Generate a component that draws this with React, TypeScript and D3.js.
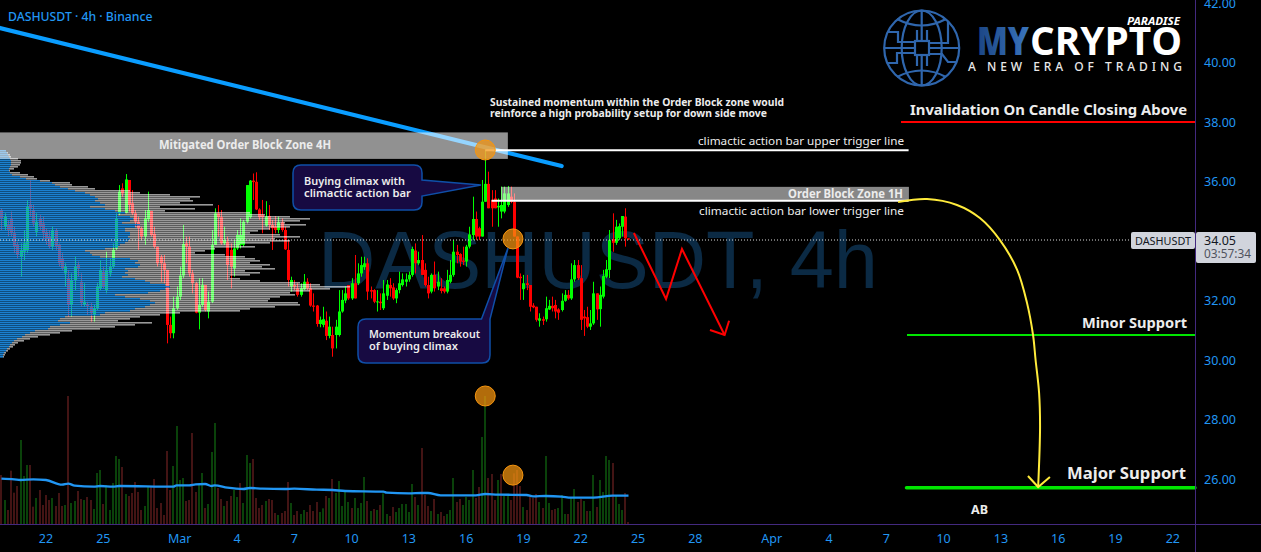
import React from "react";
import * as d3 from "d3";

const W = 1261, H = 552;
const FIRST_BAR = -14;
const opens = [35.04,34.48,34.54,34.76,34.26,33.87,33.47,33.64,33.70,35.21,35.04,34.31,34.76,34.59,
34.31,34.15,33.81,34.37,33.87,33.42,32.91,32.75,31.85,32.69,
33.19,32.63,31.85,31.88,31.79,31.51,31.74,32.41,32.97,32.35,
32.91,33.14,33.75,34.93,35.77,34.95,36.05,35.27,34.93,34.65,
34.43,34.15,34.73,35.01,34.24,33.81,33.47,33.25,33.03,31.18,
30.90,31.74,32.13,32.84,33.92,33.81,32.91,32.58,31.59,31.85,
32.52,31.63,31.96,33.87,34.93,34.80,33.92,33.98,33.70,33.08,
33.75,33.87,33.87,34.65,34.80,36.03,35.99,35.06,34.87,34.52,
34.84,34.54,34.48,34.37,34.63,34.37,33.70,32.47,32.52,32.41,
32.19,32.38,32.63,32.41,31.83,31.83,31.21,31.18,31.32,30.81,
30.84,30.84,30.84,31.63,32.00,32.52,32.07,32.58,32.58,32.91,
33.12,33.25,32.35,32.35,31.94,31.96,31.74,32.16,32.52,32.44,
32.07,32.35,32.52,32.63,32.71,32.86,33.68,33.25,33.36,33.03,
32.52,32.30,32.86,32.47,32.41,32.41,32.30,32.63,32.86,33.64,
33.56,33.34,33.31,33.81,34.20,34.74,34.43,34.15,35.32,35.92,
35.38,35.43,35.13,34.99,34.99,35.21,35.49,35.32,34.15,32.80,
32.38,32.58,32.52,31.83,31.79,31.32,31.37,31.37,31.70,31.82,
31.85,31.70,31.68,31.99,32.19,32.07,32.71,33.19,32.75,31.46,
31.44,31.12,31.23,32.24,31.71,32.13,32.80,33.03,34.06,33.94,
34.09,34.48,34.82,34.09];
const highs = [35.10,34.93,34.71,34.99,34.48,33.98,33.92,34.37,35.38,36.05,35.21,34.93,34.87,34.82,
34.43,34.37,34.48,34.43,33.92,33.59,33.25,33.03,32.91,33.47,
33.31,32.91,32.58,31.96,31.91,31.85,32.58,33.36,33.14,33.64,
33.42,33.92,34.93,35.88,35.94,36.25,36.05,35.71,35.04,34.82,
34.48,35.04,35.66,35.01,34.48,33.81,33.53,33.53,33.03,31.46,
32.13,32.47,33.14,34.54,34.15,34.15,33.03,32.63,32.75,32.75,
32.52,32.30,34.37,35.10,35.21,35.04,34.48,34.15,33.92,34.03,
34.37,34.76,34.71,35.88,36.05,36.27,36.31,35.10,35.38,35.34,
35.21,34.71,34.84,34.82,34.76,34.48,34.03,32.80,32.69,32.58,
32.58,32.89,32.75,32.58,32.24,31.85,31.46,31.79,31.63,31.46,
31.12,31.35,32.35,32.35,32.47,32.52,32.75,33.53,33.25,33.47,
33.47,33.42,32.47,32.38,32.35,32.24,32.69,32.69,32.75,32.58,
32.41,32.97,32.91,32.91,32.97,33.81,33.92,33.64,34.20,33.25,
32.80,32.91,33.31,32.97,32.75,32.47,33.03,33.36,34.03,33.87,
33.59,33.81,33.87,34.48,35.49,34.99,34.48,36.05,37.06,36.33,
35.71,35.71,35.43,35.83,35.83,35.85,35.83,35.60,34.15,32.91,
32.86,32.86,32.52,31.91,31.79,31.57,31.46,32.13,32.02,32.13,
32.02,31.74,32.24,32.35,32.35,33.25,33.36,33.36,33.19,31.68,
31.79,31.68,32.63,32.24,32.47,33.03,33.36,34.37,34.93,34.71,
34.59,34.84,35.10,34.09];
const lows = [34.37,34.37,34.15,34.15,33.59,33.42,32.80,33.36,33.59,34.82,34.48,34.15,34.37,34.03,
33.87,33.75,33.70,33.70,33.14,33.03,32.47,31.46,31.46,32.35,
32.80,31.79,31.79,31.51,31.29,31.29,31.68,32.35,32.41,32.24,
32.80,33.08,33.70,34.87,35.49,34.93,34.99,34.87,34.48,33.70,
34.03,33.87,34.65,34.15,33.75,33.14,32.63,32.58,30.56,30.73,
30.73,31.68,32.02,32.75,33.25,32.80,32.24,31.57,31.03,31.79,
31.63,31.40,31.91,33.87,34.15,33.87,33.87,32.69,32.41,32.80,
33.70,33.75,33.81,34.59,34.76,35.38,35.04,34.71,34.26,34.48,
34.37,33.70,34.26,34.26,34.31,33.70,32.47,32.30,32.35,32.13,
32.13,32.35,32.35,31.79,31.63,31.12,31.10,31.10,30.67,30.73,
30.11,30.39,30.79,31.59,31.91,32.02,32.02,32.07,32.52,32.80,
33.03,32.02,32.07,31.91,31.63,31.68,31.68,32.02,32.13,32.02,
31.91,32.24,32.47,32.47,32.63,32.80,32.91,33.19,32.86,32.47,
32.07,32.24,32.30,32.35,32.24,32.24,32.24,32.58,32.80,33.25,
33.14,33.19,33.14,33.75,34.03,34.03,34.03,34.15,35.32,35.10,
34.48,35.10,34.48,34.76,34.93,35.15,35.27,34.15,32.75,32.02,
32.02,32.35,31.63,31.74,31.29,31.12,31.18,31.29,31.68,31.63,
31.40,31.35,31.63,31.96,32.02,32.02,32.63,32.69,31.01,30.81,
31.07,31.01,31.18,31.35,31.12,32.07,32.75,32.75,33.64,33.87,
34.03,34.15,33.81,34.03];
const closes = [34.76,34.82,34.37,34.26,33.81,33.53,33.70,33.92,35.15,35.10,34.59,34.65,34.48,34.26,
34.09,33.81,34.37,33.81,33.25,33.08,33.14,31.85,32.69,33.14,
33.08,31.91,31.96,31.82,31.57,31.74,32.47,33.03,32.47,33.03,
33.14,33.70,34.76,35.66,35.60,36.07,35.21,34.93,34.65,34.43,
34.15,34.76,35.04,34.20,33.81,33.25,33.25,33.03,31.18,30.90,
31.74,32.13,32.84,33.90,33.81,32.91,32.58,31.59,31.85,32.52,
31.68,31.96,33.87,34.93,34.80,33.92,34.03,33.19,33.14,33.75,
34.20,34.20,34.65,35.88,36.03,35.98,35.06,34.80,34.80,34.82,
34.54,34.43,34.37,34.63,34.37,33.72,32.69,32.69,32.47,32.19,
32.41,32.63,32.41,31.83,31.79,31.21,31.35,31.37,30.81,31.12,
30.39,31.12,31.63,32.02,32.24,32.07,32.58,32.07,32.91,33.19,
33.25,32.30,32.30,31.96,31.97,31.91,32.24,32.54,32.41,32.07,
32.35,32.58,32.71,32.71,32.86,33.73,33.25,33.36,32.86,32.52,
32.24,32.86,32.41,32.63,32.32,32.30,32.69,32.86,33.64,33.53,
33.31,33.30,33.81,34.22,34.74,34.15,34.15,35.32,35.92,35.10,
35.10,35.10,35.18,35.21,35.60,35.60,35.32,34.15,32.77,32.75,
32.58,32.52,31.79,31.77,31.35,31.40,31.32,31.74,31.82,31.74,
31.63,31.59,31.99,32.19,32.07,32.71,33.19,32.75,31.35,31.40,
31.12,31.23,32.24,31.70,32.19,32.82,33.05,34.03,33.94,34.48,
34.50,34.84,34.09,34.05];

const volumes = [147,72,42,160,94,114,252,144,177,177,52,78,102,57,87,72,78,54,93,54,
57,384,63,69,99,75,72,81,72,45,153,162,60,117,42,123,204,195,171,90,
84,93,126,96,42,54,114,114,135,48,63,27,219,102,174,294,132,138,69,72,
273,96,117,153,48,60,216,303,108,75,54,69,84,102,81,123,63,207,183,195,
78,48,57,69,75,72,33,27,33,39,126,63,27,39,30,42,36,57,39,66,36,
47,84,78,135,93,129,54,96,66,48,78,48,63,141,69,39,45,42,57,92,
30,24,51,36,48,60,60,36,120,81,57,228,87,54,39,75,30,36,24,30,
42,138,66,75,57,81,72,162,78,111,261,384,138,150,72,132,150,84,84,72,
152,162,114,51,42,87,78,90,66,48,204,63,42,45,48,87,30,30,78,105,
66,75,69,39,39,147,51,132,96,204,192,183,87,60,42,93,6];
const volumeDirections = "rgrrrrgggr" + "rgrrrrgrrr" + "grggrrgrrg" + "ggrgggggrg" + "rrrrrggrrr" + "rrrrggggrr" + "rrggrgggrr" + "grrggrgggr" + "rrrgrrrgrr" + "rgrrggrrrr" + "g"
  + "grgrgggggr" + "ggggrgrgrg" + "grrggggggr" + "grrrgrgrrg" + "ggrrggggrr" + "ggrrrgrggr" + "rrrgrrrrgr" + "ggrrgggrgg" + "rrgrggrggg" + "grgggrr";

const volumeAverageBars = [-14,-10,-8,-4,0,5,7,9,15,17,21,23,40,41,45,47,50,52,53,57,62,64,68,75,78,85,90,94,106,107,114,118,120,124,135,138,142,151,153,157,162,165,172,178,183];
const volumeAverage = [136,134,132,134,132,118,121,115,112,114,112,114,112,116,116,119,120,114,116,109,105,108,106,105,106,103,102,99,97,94,92,93,93,86,86,90,88,87,83,84,82,79,79,85,85];

const profileTopPrice = 37.06;
const profileStep = 0.0672;
const profileTotal = [6,8,10,11,18,21,21,20,18,14,10,20,28,34,37,50,70,72,88,95,130,140,170,200,190,193,180,213,160,195,165,250,265,290,310,300,285,306,290,270,258,250,280,300,275,290,270,240,255,215,205,195,225,245,255,260,250,270,262,275,245,260,250,230,240,260,300,320,350,330,310,290,295,280,270,268,298,300,275,250,240,180,160,140,130,118,152,135,115,100,72,60,50,38,30,24,18,15,13,10,8,6,5,4];
const profileBlue = [6,7,8,9,10,11,11,11,10,9,9,10,12,20,26,40,52,55,60,68,75,85,90,95,98,95,100,105,90,105,115,125,118,130,133,130,122,140,135,125,125,130,130,128,130,128,125,120,118,105,85,90,92,100,130,138,135,140,138,125,128,125,128,122,135,145,150,165,170,165,160,148,115,125,140,150,155,150,145,135,130,105,100,65,60,58,70,60,50,48,35,30,25,22,17,14,12,10,9,7,6,4,3,3];

const priceTicks = [42,40,38,36,34,32,30,28,26];
const timeTickBars = [0,18,42,60,78,96,114,132,150,168,186,204,228,246,264,282,300,318,336,354];
const timeTickLabels = ["22","25","Mar","4","7","10","13","16","19","22","25","28","Apr","4","7","10","13","16","19","22"];

const lastPrice = 34.05;
const trendBars = [-14.45, 162];
const trendPrices = [41.16, 36.52];
const redPathBars = [184.7, 194.8, 199.8, 213.2];
const redPathPrices = [34.27, 32.05, 33.73, 30.84];
const redHeadBars = [208.6, 213.2, 214.6];
const redHeadPrices = [31.01, 30.84, 31.32];
const yellowBars = [267.7, 276.8, 286.2, 293.4, 299.7, 305.1, 308.2, 310.1, 310.9, 312, 312.3, 311.7];
const yellowPrices = [35.31, 35.41, 35.21, 34.77, 34.03, 33.03, 31.92, 30.84, 30.0, 28.89, 27.75, 25.73];
const yellowHeadBars = [308.5, 311.7, 315.4];
const yellowHeadPrices = [26.10, 25.73, 26.07];

const x = d3.scaleLinear().domain([0, 1]).range([46, 49.183]);
const y = d3.scaleLinear().domain([26, 42]).range([479, 3]);
const vy = d3.scaleLinear().domain([0, 432]).range([524, 380]);

const line = d3.line<[number, number]>().x((d) => x(d[0])).y((d) => y(d[1]));
const zip = (a: number[], b: number[]) => a.map((v, i) => [v, b[i]] as [number, number]);
const curve = d3.line<[number, number]>().x((d) => x(d[0])).y((d) => y(d[1])).curve(d3.curveCatmullRom);
const volumeLine = d3.line<[number, number]>().x((d) => x(d[0])).y((d) => vy(d[1])).curve(d3.curveMonotoneX);

const FONT = "'Noto Sans', sans-serif";
const AXIS = "#43297f";
const BLUE = "#2196f3";

const Label = ({ xp, yp, size = 12, weight = 700, anchor = "start", len, fill = "#ececec", children }: any) => (
  <text x={xp} y={yp} fontSize={size} fontWeight={weight} textAnchor={anchor} fill={fill} fontFamily={FONT}
    textLength={len} lengthAdjust={len ? "spacingAndGlyphs" : undefined}>{children}</text>
);

export default function App() {
  const bars = opens.map((o, i) => ({ o, h: highs[i], l: lows[i], c: closes[i], bar: i + FIRST_BAR }));
  const rowY = (k: number) => Math.round(y(profileTopPrice - k * profileStep));
  return (
    <svg width={W} height={H} style={{ position: "absolute", left: 0, top: 0, background: "#000" }}>
      <defs>
        <linearGradient id="my" x1="0" x2="1" y1="0" y2="0">
          <stop offset="0" stopColor="#1b4584" />
          <stop offset="1" stopColor="#3a75bd" />
        </linearGradient>
      </defs>

      {/* watermark */}
      <text x={318} y={288} fontSize={82} fontFamily="'Liberation Sans', sans-serif" fill="#0b2a44" textLength={560} lengthAdjust="spacingAndGlyphs">DASHUSDT, 4h</text>

      {/* volume */}
      {volumes.map((v, i) => (
        <rect key={i} x={Math.round(x(i + FIRST_BAR)) - 1} y={vy(v)} width={2} height={vy(0) - vy(v)}
          fill={volumeDirections[i] === "g" ? "#0a420a" : "#431414"} />
      ))}
      <path d={volumeLine(zip(volumeAverageBars, volumeAverage)) || ""} fill="none" stroke={BLUE} strokeWidth={2.4} />

      {/* candles */}
      {bars.map((b) => {
        const cx = Math.round(x(b.bar));
        const col = b.c >= b.o ? "#00ff00" : "#ff0000";
        const top = y(Math.max(b.o, b.c));
        const bot = y(Math.min(b.o, b.c));
        return (
          <g key={b.bar}>
            <rect x={cx} y={y(b.h)} width={1} height={y(b.l) - y(b.h)} fill={col} />
            <rect x={cx - 1} y={top} width={3} height={Math.max(1, bot - top)} fill={col} />
          </g>
        );
      })}

      {/* trend line under the zones */}
      <path d={line(zip(trendBars, trendPrices)) || ""} stroke="#0a9dff" strokeWidth={4.2} strokeLinecap="round" fill="none" />

      {/* visible range volume profile */}
      {profileTotal.map((t, k) => (
        <g key={k}>
          <rect x={0} y={rowY(k)} width={profileBlue[k]} height={1.6} fill="#1e8fe8" fillOpacity={0.9} />
          <rect x={profileBlue[k]} y={rowY(k)} width={t - profileBlue[k]} height={1.6} fill="#fff" fillOpacity={0.6} />
        </g>
      ))}

      {/* zones */}
      <rect x={x(-15)} y={y(37.65)} width={x(145.1) - x(-15)} height={y(36.76) - y(37.65)} fill="#fff" fillOpacity={0.57} />
      <rect x={x(143)} y={y(35.82)} width={x(271.1) - x(143)} height={y(35.37) - y(35.82)} fill="#fff" fillOpacity={0.53} />
      <line x1={x(138)} x2={x(271)} y1={y(37.05)} y2={y(37.05)} stroke="#fff" strokeWidth={2} />
      <line x1={x(140)} x2={x(271)} y1={y(35.35)} y2={y(35.35)} stroke="#fff" strokeWidth={2} />
      <line x1={0} x2={1131} y1={y(lastPrice) + 0.5} y2={y(lastPrice) + 0.5} stroke="#ddd" strokeWidth={1} strokeDasharray="1 2" />

      {/* circles */}
      {[[138, 37.06], [146.7, 34.07], [138, 28.79], [146.7, 26.13]].map(([b, p], i) => (
        <circle key={i} cx={x(b)} cy={y(p)} r={10} fill="#f7960f" fillOpacity={0.72} stroke="#f7960f" strokeWidth={1} />
      ))}

      {/* callouts */}
      <path d="M301 165 H414 Q422 165 422 173 V180 L481 185 L422 196 V202 Q422 210 414 210 H301 Q293 210 293 202 V173 Q293 165 301 165 Z" fill="#170a42" stroke="#0f4fa8" strokeWidth={1.5} />
      <Label xp={304} yp={185} size={11} weight={600} len={101}>Buying climax with</Label>
      <Label xp={304} yp={197} size={11} weight={600} len={107}>climactic action bar</Label>
      <path d="M366 319 H481.5 L508 248 L490 319 V355 Q490 363 482 363 H366 Q358 363 358 355 V327 Q358 319 366 319 Z" fill="#170a42" stroke="#0f4fa8" strokeWidth={1.5} />
      <Label xp={369} yp={338} size={11} weight={600} len={111}>Momentum breakout</Label>
      <Label xp={369} yp={350} size={11} weight={600} len={89}>of buying climax</Label>

      {/* level lines */}
      <line x1={901} x2={1195} y1={y(38)} y2={y(38)} stroke="#ff0000" strokeWidth={2} />
      <line x1={907} x2={1195} y1={y(30.84)} y2={y(30.84)} stroke="#00e600" strokeWidth={2} />
      <line x1={906.5} x2={1195} y1={y(25.71)} y2={y(25.71)} stroke="#00e600" strokeWidth={3.5} strokeLinecap="round" />

      {/* projected paths */}
      <path d={line(zip(redPathBars, redPathPrices)) || ""} stroke="#ff0000" strokeWidth={2} fill="none" />
      <path d={line(zip(redHeadBars, redHeadPrices)) || ""} stroke="#ff0000" strokeWidth={2} fill="none" />
      <path d={curve(zip(yellowBars, yellowPrices)) || ""} stroke="#ffeb3b" strokeWidth={2} fill="none" />
      <path d={line(zip(yellowHeadBars, yellowHeadPrices)) || ""} stroke="#ffeb3b" strokeWidth={2} fill="none" />

      {/* annotation texts */}
      <Label xp={8} yp={20.5} size={13} weight={500} len={144.5} fill={BLUE}>DASHUSDT · 4h · Binance</Label>
      <Label xp={490} yp={105.5} size={10.5} len={294}>Sustained momentum within the Order Block zone would</Label>
      <Label xp={490} yp={117} size={10.5} len={277}>reinforce a high probability setup for down side move</Label>
      <Label xp={159} yp={149} size={11.5} len={172}>Mitigated Order Block Zone 4H</Label>
      <Label xp={698} yp={144.5} size={11.5} weight={400} len={206}>climactic action bar upper trigger line</Label>
      <Label xp={788} yp={197.5} size={11.5} len={115}>Order Block Zone 1H</Label>
      <Label xp={699} yp={214.5} size={11.5} weight={400} len={205}>climactic action bar lower trigger line</Label>
      <Label xp={910} yp={115} size={15} len={277}>Invalidation On Candle Closing Above</Label>
      <Label xp={1082} yp={328} size={15} len={105}>Minor Support</Label>
      <Label xp={1067} yp={479} size={16} len={119}>Major Support</Label>
      <Label xp={971} yp={514} size={12} len={17}>AB</Label>

      {/* axes */}
      <line x1={1195.5} x2={1195.5} y1={0} y2={H} stroke={AXIS} />
      <line x1={0} x2={W} y1={524.5} y2={524.5} stroke={AXIS} />
      {priceTicks.map((p) => (
        <text key={p} x={1204} y={y(p) + 4.5} fontSize={12.5} fontFamily={FONT} fill={BLUE}>{d3.format(".2f")(p)}</text>
      ))}
      {timeTickBars.map((b, i) => (
        <text key={b} x={x(b)} y={542.5} fontSize={12.5} textAnchor="middle" fontFamily={FONT} fill={BLUE}>{timeTickLabels[i]}</text>
      ))}

      {/* price labels */}
      <rect x={1131} y={232} width={64} height={17} rx={2} fill="#d1d4dc" />
      <rect x={1196} y={232} width={60} height={31} rx={2} fill="#d1d4dc" />
      <text x={1135} y={245} fontSize={11.5} fontFamily={FONT} fill="#131722" textLength={56} lengthAdjust="spacingAndGlyphs">DASHUSDT</text>
      <text x={1204} y={245} fontSize={12.5} fontFamily={FONT} fill="#131722">{lastPrice.toFixed(2)}</text>
      <text x={1204} y={258} fontSize={12} fontFamily={FONT} fill="#50535e" textLength={47} lengthAdjust="spacingAndGlyphs">03:57:34</text>

      {/* logo */}
      <g fill="none" stroke="#2f66ad" strokeWidth={2.2}>
        <circle cx={921.7} cy={48} r={37.5} />
        <ellipse cx={921.7} cy={48} rx={20} ry={37.5} />
        <path d="M921.7 10.5 V41 M921.7 55 V85.5" />
        <path d="M897 19 Q921.7 32 946 19 M897 77 Q921.7 64 946 77" />
        <rect x={915} y={41} width={14} height={14} />
        <path d="M917 30 V41 M927 30 V41 M917 55 V66 M927 55 V66" />
        <path d="M887 32 H898 V42 H915 M884.5 48 H915 M887 63 H897 V53 H915" />
        <path d="M948 22 V43 H929 M929 48 H959 M929 54 H942 L948 62 H957" />
      </g>
      <text x={977} y={55} fontSize={38.5} fontWeight={800} fontFamily="'Open Sans', sans-serif" fill="url(#my)" textLength={52} lengthAdjust="spacingAndGlyphs">MY</text>
      <text x={1030} y={55} fontSize={38.5} fontWeight={700} fontFamily="'Open Sans', sans-serif" fill="#fff" textLength={152} lengthAdjust="spacingAndGlyphs">CRYPTO</text>
      <text x={1127} y={24.5} fontSize={11} fontWeight={700} fontStyle="italic" fontFamily={FONT} fill="#fff" textLength={53} lengthAdjust="spacingAndGlyphs">PARADISE</text>
      <text x={968} y={71} fontSize={12} fontWeight={500} fontFamily={FONT} fill="#e8e8e8" textLength={214} lengthAdjust="spacing">A NEW ERA OF TRADING</text>
    </svg>
  );
}
